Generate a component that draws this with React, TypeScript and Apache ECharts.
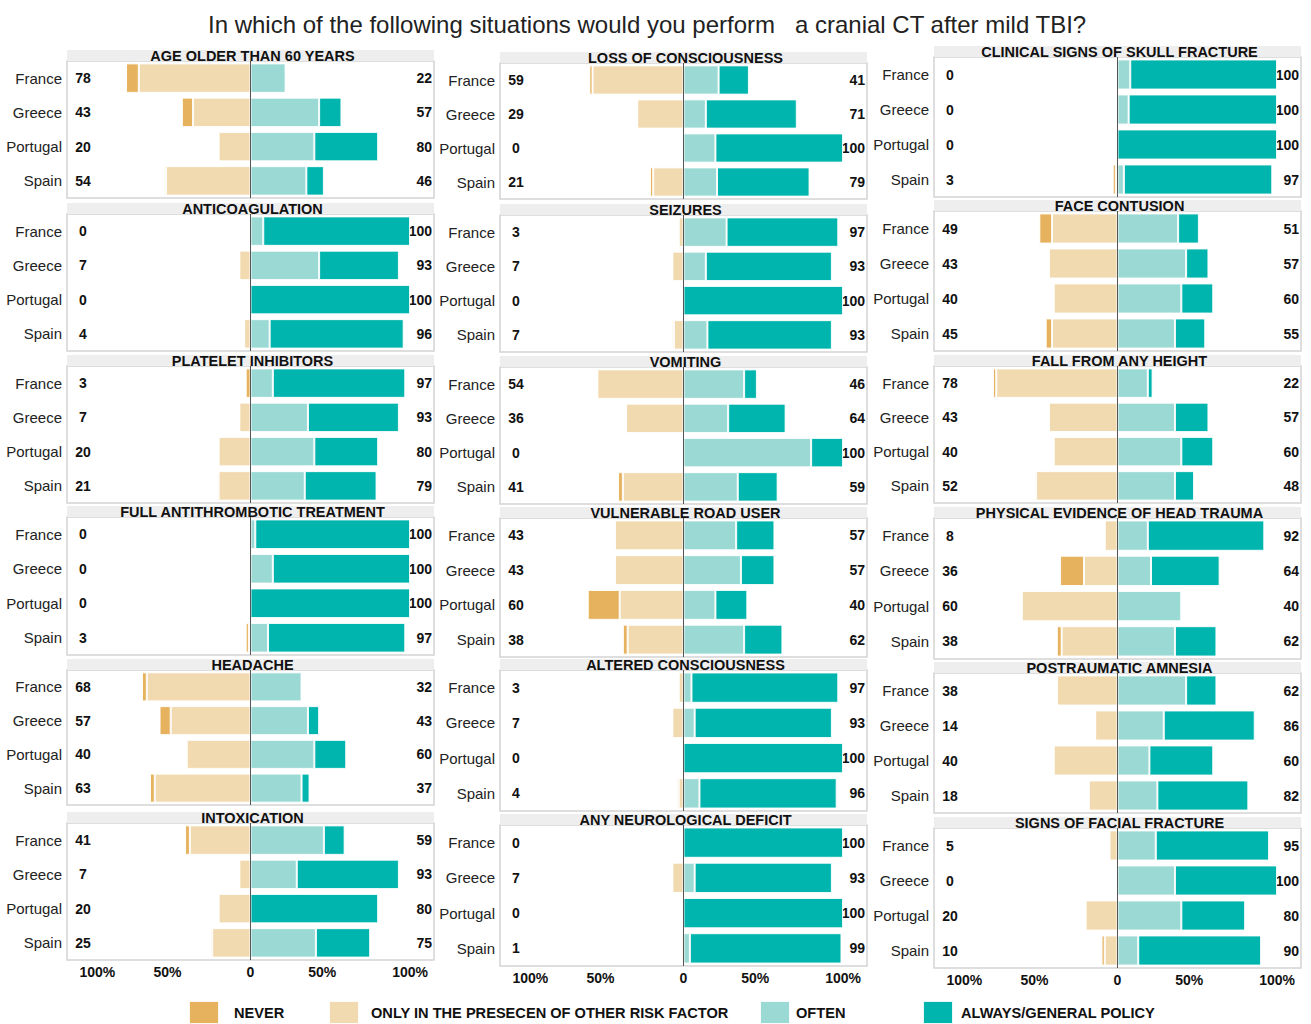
import React, { useEffect, useRef } from "react";
import * as echarts from "echarts";

const countries = ["France", "Greece", "Portugal", "Spain"];

const panelTitles = [
  "AGE OLDER THAN 60 YEARS",
  "ANTICOAGULATION",
  "PLATELET INHIBITORS",
  "FULL ANTITHROMBOTIC TREATMENT",
  "HEADACHE",
  "INTOXICATION",
  "LOSS OF CONSCIOUSNESS",
  "SEIZURES",
  "VOMITING",
  "VULNERABLE ROAD USER",
  "ALTERED CONSCIOUSNESS",
  "ANY NEUROLOGICAL DEFICIT",
  "CLINICAL SIGNS OF SKULL FRACTURE",
  "FACE CONTUSION",
  "FALL FROM ANY HEIGHT",
  "PHYSICAL EVIDENCE OF HEAD TRAUMA",
  "POSTRAUMATIC AMNESIA",
  "SIGNS OF FACIAL FRACTURE",
];

// values per panel, per country (France, Greece, Portugal, Spain), in %
const neverVals = [
  [8, 7, 0, 1], [0, 0, 0, 0], [3, 0, 0, 1], [0, 0, 0, 2], [3, 7, 0, 3], [3, 0, 0, 1],
  [2, 0, 0, 2], [0, 0, 0, 1], [0, 0, 0, 3], [0, 0, 20, 3], [0, 0, 0, 1], [0, 0, 0, 1],
  [0, 0, 0, 2], [8, 0, 0, 4], [2, 0, 0, 1], [0, 15, 0, 3], [0, 0, 0, 0], [0, 0, 0, 2],
];
const onlyVals = [
  [70, 36, 20, 53], [0, 7, 0, 4], [0, 7, 20, 20], [0, 0, 0, 1], [65, 50, 40, 60], [38, 7, 20, 24],
  [57, 29, 0, 19], [3, 7, 0, 6], [54, 36, 0, 38], [43, 43, 40, 35], [3, 7, 0, 3], [0, 7, 0, 0],
  [0, 0, 0, 1], [41, 43, 40, 41], [76, 43, 40, 51], [8, 21, 60, 35], [38, 14, 40, 18], [5, 0, 20, 8],
];
const oftenVals = [
  [22, 43, 40, 35], [8, 43, 0, 12], [14, 36, 40, 34], [3, 14, 0, 11], [32, 36, 40, 32], [46, 29, 0, 41],
  [22, 14, 20, 21], [27, 14, 0, 15], [38, 28, 80, 34], [33, 36, 20, 38], [5, 7, 0, 10], [0, 7, 0, 4],
  [8, 7, 0, 4], [38, 43, 40, 36], [19, 36, 40, 36], [19, 21, 40, 36], [43, 29, 20, 25], [24, 36, 40, 13],
];
const alwaysVals = [
  [0, 14, 40, 11], [92, 50, 100, 84], [83, 57, 40, 45], [97, 86, 100, 86], [0, 7, 20, 5], [13, 64, 80, 34],
  [19, 57, 80, 58], [70, 79, 100, 78], [8, 36, 20, 25], [24, 21, 20, 24], [92, 86, 100, 86], [100, 86, 100, 95],
  [92, 93, 100, 93], [13, 14, 20, 19], [3, 21, 20, 12], [73, 43, 0, 26], [19, 57, 40, 57], [71, 64, 40, 77],
];

const tickValues = [-96, -52, 0, 45, 100];
const tickLabels = ["100%", "50%", "0", "50%", "100%"];

const seriesNames = [
  "NEVER",
  "ONLY IN THE PRESECEN OF OTHER RISK FACTOR",
  "OFTEN",
  "ALWAYS/GENERAL POLICY",
];
const colors = ["#E6B25E", "#F2DAB0", "#9BD9D4", "#00B5AD"];

const mainTitle =
  "In which of the following situations would you perform   a cranial CT after mild TBI?";

// layout
const FONT = '"Liberation Sans", Arial, sans-serif';
const colLeft = [67, 500, 934];
const panelW = 367;
const bandH = 11;
const bandTops = [
  [50, 203, 355, 506, 659, 812],
  [52, 204, 356, 507, 659, 814],
  [46, 200, 355, 507, 662, 817],
];
const plotBottoms = [
  [198, 351, 503, 655, 805, 960],
  [199, 352, 504, 657, 811, 966],
  [197, 351, 503, 659, 813, 968],
];

function buildOption() {
  const grids: any[] = [];
  const xAxes: any[] = [];
  const yAxes: any[] = [];
  const series: any[] = [];
  const graphics: any[] = [];

  for (let p = 0; p < 18; p++) {
    const c = Math.floor(p / 6);
    const r = p % 6;
    const left = colLeft[c];
    const top = bandTops[c][r] + bandH;
    const height = plotBottoms[c][r] - top;
    grids.push({
      left,
      top,
      width: panelW,
      height,
      show: true,
      borderColor: "#d4d4d4",
      borderWidth: 1.5,
      backgroundColor: "#fff",
      containLabel: false,
      outerBoundsMode: "none",
    });
    const isBottom = r === 5;
    xAxes.push({
      type: "value",
      gridIndex: p,
      min: -115,
      max: 115,
      axisLine: { show: false },
      axisTick: { show: false },
      splitLine: { show: false },
      axisLabel: {
        show: isBottom,
        customValues: tickValues,
        formatter: (v: number) => {
          const i = tickValues.indexOf(v);
          return i >= 0 ? tickLabels[i] : "";
        },
        fontFamily: FONT,
        fontSize: 14,
        fontWeight: "bold",
        color: "#111",
        margin: 5,
      },
    });
    const leftTotals = countries.map((_, k) => neverVals[p][k] + onlyVals[p][k]);
    const rightTotals = countries.map((_, k) => oftenVals[p][k] + alwaysVals[p][k]);
    const yBase = {
      type: "category",
      gridIndex: p,
      data: countries,
      inverse: true,
      axisLine: { show: false },
      axisTick: { show: false },
      splitLine: { show: false },
    };
    yAxes.push({
      ...yBase,
      position: "left",
      axisLabel: { fontFamily: FONT, fontSize: 15, color: "#222", margin: 5 },
    });
    yAxes.push({
      ...yBase,
      position: "left",
      axisLabel: {
        inside: true,
        margin: 16,
        align: "center",
        formatter: (_v: string, idx: number) => String(leftTotals[idx]),
        fontFamily: FONT,
        fontSize: 14,
        fontWeight: "bold",
        color: "#111",
      },
    });
    yAxes.push({
      ...yBase,
      position: "right",
      axisLabel: {
        inside: true,
        margin: 2,
        align: "right",
        formatter: (_v: string, idx: number) => String(rightTotals[idx]),
        fontFamily: FONT,
        fontSize: 14,
        fontWeight: "bold",
        color: "#111",
      },
    });

    const sets = [
      onlyVals[p].map((v) => -v),
      neverVals[p].map((v) => -v),
      oftenVals[p],
      alwaysVals[p],
    ];
    const nameIdx = [1, 0, 2, 3];
    sets.forEach((data, s) => {
      const ni = nameIdx[s];
      const ser: any = {
        type: "bar",
        name: seriesNames[ni],
        xAxisIndex: p,
        yAxisIndex: p * 3,
        stack: "p" + p,
        data,
        barWidth: "86%",
        itemStyle: { color: colors[ni], borderColor: "rgba(255,255,255,0.9)", borderWidth: 1 },
        emphasis: { disabled: true },
      };
      if (s === 2) {
        ser.markLine = {
          silent: true,
          symbol: "none",
          label: { show: false },
          lineStyle: { color: "#555", type: "solid", width: 1 },
          data: [{ xAxis: 0 }],
        };
      }
      series.push(ser);
    });

    graphics.push({
      type: "rect",
      shape: { x: left, y: bandTops[c][r], width: panelW, height: bandH },
      style: { fill: "#eeeeee" },
      z: 10,
    });
    graphics.push({
      type: "text",
      x: left + panelW / 2 + 2,
      y: bandTops[c][r] + bandH / 2 + 0.5,
      style: {
        text: panelTitles[p],
        align: "center",
        verticalAlign: "middle",
        fontFamily: FONT,
        fontSize: 14.5,
        fontWeight: "bold",
        fill: "#111",
      },
      z: 11,
    });
  }

  const legendBase = {
    top: 1000,
    padding: 0,
    icon: "rect",
    itemWidth: 30,
    itemHeight: 23,
    selectedMode: false,
  };
  const legendText = (pad: number[]) => ({
    fontFamily: FONT,
    fontSize: 14.6,
    fontWeight: "bold",
    color: "#111",
    padding: pad,
  });

  return {
    animation: false,
    backgroundColor: "#fff",
    title: {
      text: mainTitle,
      left: 203,
      top: 7,
      textStyle: { fontFamily: FONT, fontSize: 24, fontWeight: "normal", color: "#222" },
    },
    legend: [
      { ...legendBase, left: 188, data: [seriesNames[0]], textStyle: legendText([7, 0, 0, 10]) },
      { ...legendBase, left: 328, data: [seriesNames[1]], textStyle: legendText([0, 0, 0, 7]) },
      { ...legendBase, left: 759, data: [seriesNames[2]], textStyle: legendText([0, 0, 0, 1]) },
      { ...legendBase, left: 922, data: [seriesNames[3]], textStyle: legendText([0, 0, 0, 3]) },
    ],
    grid: grids,
    xAxis: xAxes,
    yAxis: yAxes,
    series,
    graphic: graphics,
  };
}

export default function App() {
  const ref = useRef<HTMLDivElement>(null);
  useEffect(() => {
    document.body.style.margin = "0";
    if (!ref.current) return;
    const chart = echarts.init(ref.current, undefined, { renderer: "svg" });
    chart.setOption(buildOption() as any);
    return () => chart.dispose();
  }, []);
  return <div ref={ref} style={{ width: 1311, height: 1024 }} />;
}
